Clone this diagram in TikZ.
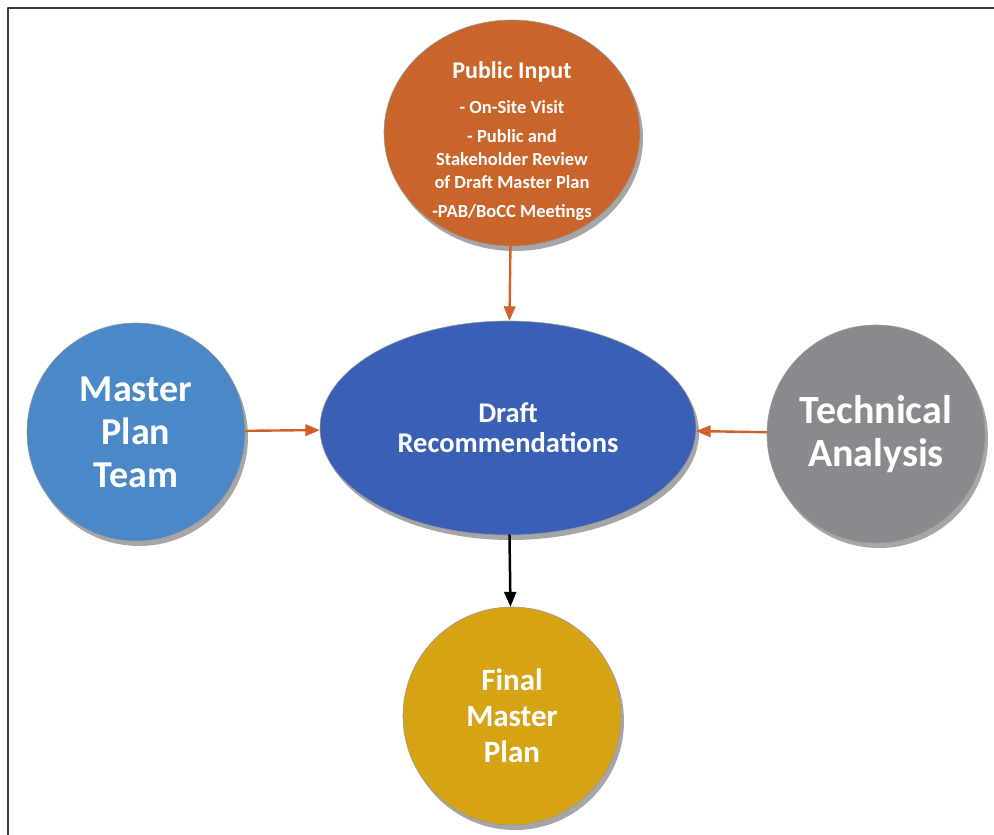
\documentclass[tikz,border=0pt]{standalone}
\usepackage{fontspec}
\setmainfont{Carlito}
\usepackage{pgf,tikz}
\usetikzlibrary{arrows,shapes.geometric,shadows}

\definecolor{pubfill}{RGB}{201,101,43}
\definecolor{draftfill}{RGB}{58,96,182}
\definecolor{teamfill}{RGB}{74,136,200}
\definecolor{techfill}{RGB}{138,138,142}
\definecolor{finalfill}{RGB}{214,163,20}
\definecolor{arroworange}{RGB}{210,96,40}
\definecolor{framegray}{RGB}{60,60,60}

\begin{document}
\begin{tikzpicture}[line cap=round,line join=round,>=triangle 45,x=1pt,y=-1pt,
	bubble/.style={circle,inner sep=0pt,minimum size=218pt,text=white,align=center,
		draw=white!60!black,line width=0.6pt,
		drop shadow={shadow xshift=3pt,shadow yshift=-5pt,opacity=0.35,fill=black}},
	oval/.style={ellipse,inner sep=0pt,text=white,align=center,
		draw=white!60!black,line width=0.6pt,
		drop shadow={shadow xshift=3pt,shadow yshift=-5pt,opacity=0.35,fill=black}},
	feed/.style={->,color=arroworange,line width=2.4pt}]
	\useasboundingbox (0,0) rectangle (994,835);
	\draw[color=framegray,line width=2.5pt,line cap=butt] (8,835) -- (8,8) -- (994,8);
	% nodes
	\node[oval,fill=pubfill,minimum width=256pt,minimum height=226pt,inner xsep=-20pt,inner ysep=-30pt,
		font=\bfseries\fontsize{18.5}{23}\selectfont] (pub) at (512,133)
		{\rule{0pt}{34pt}{\fontsize{24}{28}\selectfont Public Input}\\[12pt]
		- On-Site Visit\\[6pt]
		- Public and\\
		Stakeholder Review\\
		of Draft Master Plan\\[6pt]
		-PAB/BoCC Meetings};
	\node[oval,fill=draftfill,minimum width=376pt,minimum height=214pt,
		font=\bfseries\fontsize{28.5}{30}\selectfont] (draft) at (508,428)
		{Draft\\Recommendations};
	\node[bubble,fill=teamfill,font=\bfseries\fontsize{38}{43}\selectfont] (team) at (136,432)
		{Master\\Plan\\Team};
	\node[bubble,fill=techfill,font=\bfseries\fontsize{40}{43}\selectfont] (tech) at (876,434)
		{Technical\\Analysis};
	\node[bubble,fill=finalfill,font=\bfseries\fontsize{31}{36}\selectfont] (final) at (512,716)
		{Final\\Master\\Plan};
	% connectors
	\draw[feed] (pub) -- (draft);
	\draw[feed] (team) -- (draft);
	\draw[feed] (tech) -- (draft);
	\draw[->,color=black,line width=2.5pt] (draft) -- (final);
\end{tikzpicture}
\end{document}
